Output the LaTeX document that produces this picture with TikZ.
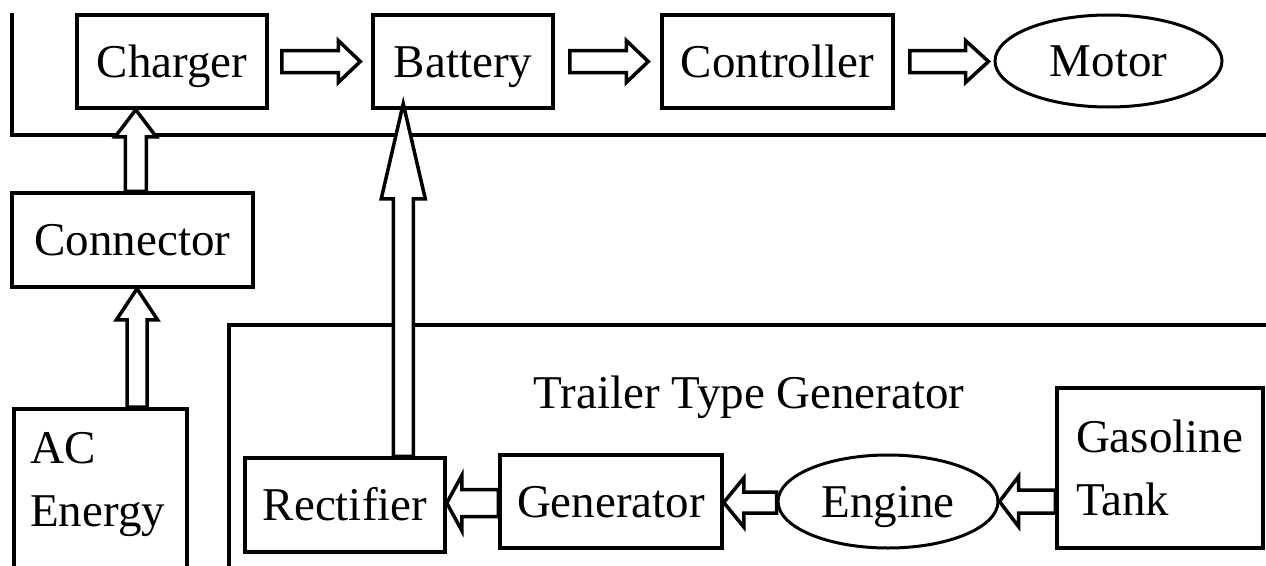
\documentclass[tikz,border=0pt]{standalone}
\usepackage{fontspec}
\setmainfont{Liberation Serif}
\usetikzlibrary{calc,shapes.geometric}
\tikzset{
  box/.style={draw, line width=3.5pt, rectangle, inner sep=0pt},
  tbox/.style={box, text height=34pt, text depth=3pt},
  oval/.style={draw, line width=3pt, ellipse, inner sep=0pt, text height=34pt, text depth=3pt},
  frame/.style={line width=3.5pt},
  barr/.style={draw, fill=white, line width=3.5pt, line join=miter},
}
% horizontal block arrow: start, end, shaft half, head half, signed head length
\newcommand\harr[5]{%
  \draw[barr] let \p1=#1, \p2=#2 in
   ({\x1},{\y1+#3pt}) -- ({\x2-(#5pt)},{\y1+#3pt}) -- ({\x2-(#5pt)},{\y1+#4pt}) --
   ({\x2},{\y1}) -- ({\x2-(#5pt)},{\y1-#4pt}) -- ({\x2-(#5pt)},{\y1-#3pt}) --
   ({\x1},{\y1-#3pt}) -- cycle;}
% vertical (upward) block arrow
\newcommand\varr[5]{%
  \draw[barr] let \p1=#1, \p2=#2 in
   ({\x1-#3pt},{\y1}) -- ({\x1-#3pt},{\y2-#5pt}) -- ({\x1-#4pt},{\y2-#5pt}) --
   ({\x1},{\y2}) -- ({\x1+#4pt},{\y2-#5pt}) -- ({\x1+#3pt},{\y2-#5pt}) --
   ({\x1+#3pt},{\y1}) -- cycle;}
\begin{document}
\begin{tikzpicture}[x=1pt,y=-1pt,font=\fontsize{47}{63}\selectfont]
\useasboundingbox (0,0) rectangle (1266,565);
\fill[white] (0,0) rectangle (1266,565);
\begin{scope}
\clip (0,0) rectangle (1266,565);
% frames
\draw[frame] (12,13) -- (12,135) -- (1270,135);
\draw[frame] (229,570) -- (229,325) -- (1270,325);
% top row
\node[tbox, minimum width=190, minimum height=93] (charger) at (172,61.5) {Charger};
\node[tbox, minimum width=180, minimum height=93] (battery) at (463,61.5) {Battery};
\node[tbox, minimum width=231, minimum height=93] (controller) at (777.5,61.5) {Controller};
\node[oval, minimum width=227, minimum height=92] (motor) at (1108.5,61) {Motor};
% left column
\node[tbox, minimum width=241, minimum height=94] (connector) at (132.5,240) {Connector};
\node[box, minimum width=173, minimum height=220, anchor=north west] (acenergy) at (12,407) {};
\node[anchor=west, align=left, inner sep=0pt] (actext) at (30,485) {AC\\Energy};
% trailer
\node[text height=34pt, text depth=3pt] (trailer) at (749,393) {Trailer Type Generator};
\node[tbox, minimum width=200, minimum height=94] (rectifier) at (345,505) {Rectifier};
\node[tbox, minimum width=222, minimum height=93] (generator) at (611,501.5) {Generator};
\node[oval, minimum width=220, minimum height=93] (engine) at (888,501.5) {Engine};
\node[box, minimum width=206, minimum height=160, text width=168, inner xsep=19pt, align=left] (tank) at (1160,468) {Gasoline\\Tank};
% arrows
\harr{($(charger.east)+(13,0)$)}{($(battery.west)+(-11,0)$)}{11}{21}{22}
\harr{($(battery.east)+(15,0)$)}{($(controller.west)+(-12,0)$)}{11}{21}{22}
\harr{($(controller.east)+(15,0)$)}{($(motor.west)+(-5,0)$)}{11}{21}{23}
\coordinate (c1) at ($(connector.north west)+(125.5,0)$);
\varr{(c1)}{(c1 |- charger.south)}{10.5}{20.5}{27}
\coordinate (c2) at ($(acenergy.north west)+(125,0)$);
\varr{(c2)}{(c2 |- connector.south)}{10}{20.5}{31}
\coordinate (c3) at ($(rectifier.north west)+(160,0)$);
\varr{(c3)}{($(c3 |- battery.south)+(0,-6)$)}{10}{22}{95}
\harr{($(generator.west)+(0,1.5)$)}{(rectifier.east)}{13.5}{27.5}{-15}
\harr{($(engine.west)+(0,1)$)}{(generator.east)}{10.5}{24.5}{-20}
\harr{(tank.west |- engine.west)}{(engine.east)}{11.5}{25}{-19}
\end{scope}
\end{tikzpicture}
\end{document}
